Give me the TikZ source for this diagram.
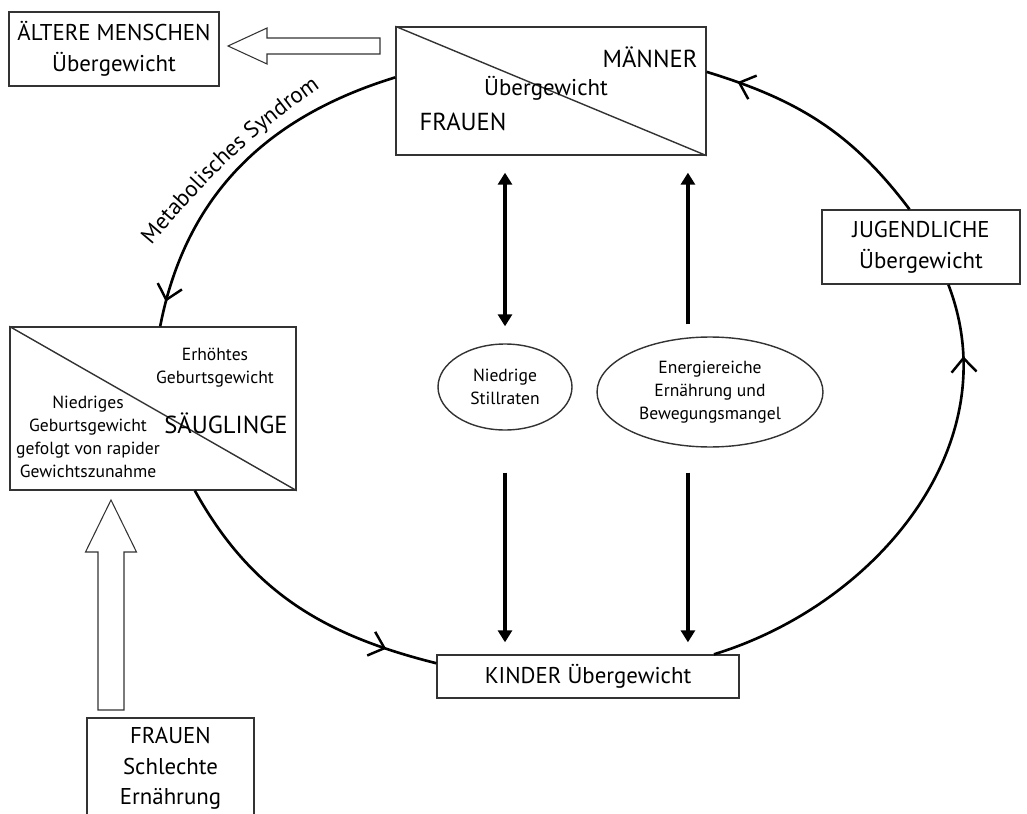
\documentclass[tikz,border=0pt]{standalone}
\usepackage{fontspec}
\setmainfont{PT Sans}
\usetikzlibrary{shapes.geometric,arrows.meta,decorations.markings,decorations.text}

\definecolor{boxgray}{HTML}{333333}
\newcommand\bigtext{\fontsize{13}{17.5}\selectfont}
\newcommand\smalltext{\fontsize{10}{13}\selectfont}
\newcommand\arctext{\fontsize{13}{15}\selectfont}

\tikzset{
  box/.style={draw=boxgray, line width=0.8pt, fill=white, inner sep=0pt, align=center, font=\bigtext},
  oval/.style={ellipse, draw=boxgray, line width=0.8pt, inner sep=0pt, align=center, font=\smalltext},
  ring/.style={line width=1.5pt, postaction={decorate},
    decoration={markings, mark=at position #1 with {\arrow{Straight Barb[length=2.8mm,width=5mm,line width=1.4pt]}}}},
  bigarrow/.style={line width=2.2pt, >={Triangle[length=2.4mm,width=2.8mm]}},
  hollow/.style={draw=boxgray, line width=0.6pt, fill=white, line join=miter}
}

\begin{document}
\begin{tikzpicture}[x=0.02cm, y=0.02cm]
  \useasboundingbox (0,0) rectangle (1027,-814);

  % boxes
  \node[box, minimum width=4.2cm, minimum height=1.48cm] (aelter) at (114,-49) {ÄLTERE MENSCHEN\\Übergewicht};
  \node[box, minimum width=6.2cm, minimum height=2.56cm] (maenner) at (551,-91) {};
  \node[box, minimum width=3.96cm, minimum height=1.48cm] (jugend) at (921,-247) {JUGENDLICHE\\Übergewicht};
  \node[box, minimum width=5.72cm, minimum height=3.26cm] (saeugl) at (153,-408.5) {};
  \node[box, minimum width=6.04cm, minimum height=0.86cm] (kinder) at (588,-676.5) {KINDER Übergewicht};
  \node[box, minimum width=3.34cm, minimum height=2.02cm] (frauen) at (170.5,-768.5) {FRAUEN\\Schlechte\\Ernährung};

  % split boxes
  \draw[boxgray, line width=0.8pt] (maenner.north west) -- (maenner.south east);
  \draw[boxgray, line width=0.8pt] (saeugl.north west) -- (saeugl.south east);
  \node[font=\fontsize{14}{16}\selectfont] (mlabel) at (650,-57) {MÄNNER};
  \node[font=\bigtext] (ulabel) at (546,-88) {Übergewicht};
  \node[font=\fontsize{14}{16}\selectfont] (flabel) at (463,-122) {FRAUEN};
  \node[font=\smalltext, align=center] (hoch) at (215,-368) {Erhöhtes\\Geburtsgewicht};
  \node[font=\fontsize{14}{16}\selectfont] (slabel) at (226,-423) {SÄUGLINGE};
  \node[font=\smalltext, align=center] (niedrig) at (88,-437) {Niedriges\\Geburtsgewicht\\gefolgt von rapider\\Gewichtszunahme};

  % causes
  \node[oval, minimum width=2.68cm, minimum height=1.72cm] (still) at (505,-387) {Niedrige\\Stillraten};
  \node[oval, minimum width=4.52cm, minimum height=2.2cm] (energie) at (710,-392) {Energiereiche\\Ernährung und\\Bewegungsmangel};

  \draw[bigarrow, <->, shorten <=0.34cm, shorten >=0.34cm] (maenner.south -| still.north) -- (still.north);
  \draw[bigarrow, ->, shorten <=0.26cm, shorten >=0.34cm] (energie.112) -- (energie.112 |- maenner.south);
  \draw[bigarrow, ->, shorten <=0.84cm, shorten >=0.24cm] (still.south) -- (still.south |- kinder.north);
  \draw[bigarrow, ->, shorten <=0.52cm, shorten >=0.24cm] (energie.248) -- (energie.248 |- kinder.north);

  % life cycle
  \draw[ring=0.93] (maenner.175) to[out=197, in=79] (saeugl.85);
  \draw[ring=0.83] (saeugl.297) to[out=299, in=166] (kinder.175);
  \draw[ring=0.85] (kinder.10) to[out=17, in=291] (jugend.306);
  \draw[ring=0.87] (jugend.107) to[out=127, in=343] (maenner.7);

  \path[decorate, decoration={text along path, text align=center,
    text={|\arctext|Metabolisches Syndrom}}] (150,-247) to[out=50, in=215] (322,-86);

  % hollow arrows
  \coordinate (oldtip) at (228,-46);
  \draw[hollow] (oldtip) -- ++(39,18) -- ++(0,-10) -- ++(113,0) -- ++(0,-16) -- ++(-113,0) -- ++(0,-10) -- cycle;
  \coordinate (poortip) at (111,-500);
  \draw[hollow] (poortip) -- ++(25.5,-52) -- ++(-12.5,0) -- ++(0,-158) -- ++(-26,0) -- ++(0,158) -- ++(-12.5,0) -- cycle;
\end{tikzpicture}
\end{document}
